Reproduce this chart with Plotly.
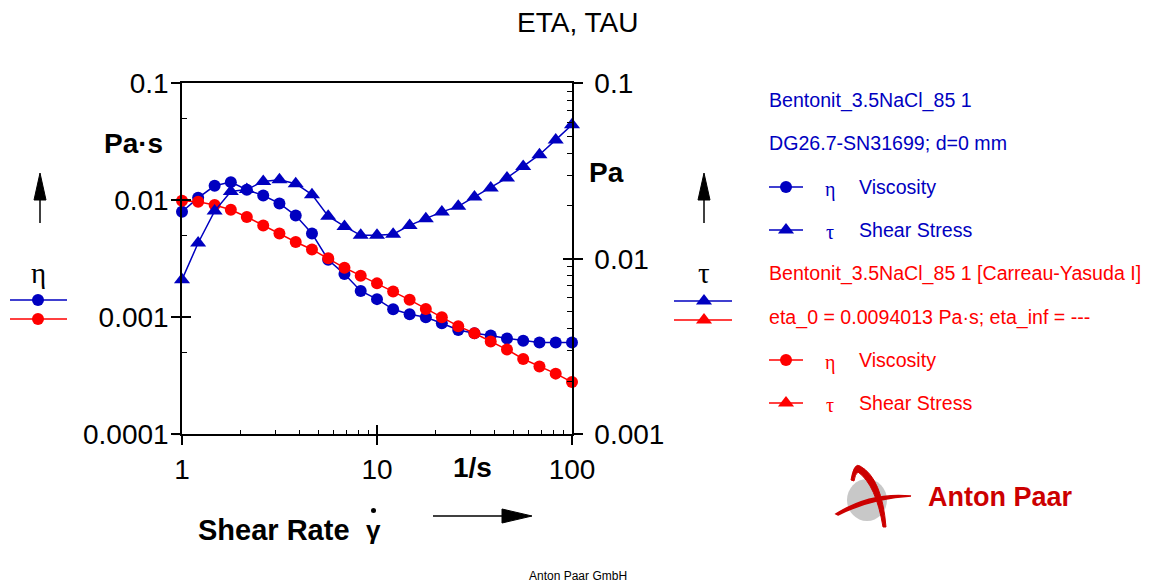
import plotly.graph_objects as go

# ---------------- data ----------------
shear_rate = [1, 1.21, 1.47, 1.78, 2.15, 2.61, 3.16, 3.83, 4.64, 5.62, 6.81, 8.25,
              10, 12.1, 14.7, 17.8, 21.5, 26.1, 31.6, 38.3, 46.4, 56.2, 68.1, 82.5, 100]
eta_measured = [0.0080, 0.0105, 0.0133, 0.0143, 0.0123, 0.0110, 0.0094, 0.0074, 0.0052,
                0.0031, 0.00234, 0.00168, 0.00143, 0.00117, 0.00106, 0.00100, 0.00089,
                0.00078, 0.00073, 0.00070, 0.00066, 0.00063, 0.00061, 0.00061, 0.00061]
tau_measured = [0.0076, 0.0123, 0.0187, 0.0242, 0.0248, 0.0276, 0.0282, 0.0268, 0.0232,
                0.0175, 0.0153, 0.0136, 0.0136, 0.0138, 0.0155, 0.0169, 0.0185, 0.0199,
                0.0225, 0.0253, 0.0289, 0.0336, 0.0392, 0.0476, 0.058]
eta_fit = [0.0099, 0.0097, 0.0091, 0.0083, 0.0072, 0.0061, 0.0052, 0.0044, 0.0038, 0.0032,
           0.00265, 0.00227, 0.00195, 0.00166, 0.00141, 0.00118, 0.00100, 0.00084,
           0.00073, 0.00062, 0.00053, 0.00044, 0.00038, 0.00033, 0.00028]

x_tickvals = [1, 10, 100]
x_ticktext = ["1", "10", "100"]
x_minor = [2, 3, 4, 5, 6, 7, 8, 9, 20, 30, 40, 50, 60, 70, 80, 90]
eta_tickvals = [1e-4, 1e-3, 1e-2, 1e-1]
eta_ticktext = ["0.0001", "0.001", "0.01", "0.1"]
eta_minor = [5e-4, 5e-3, 5e-2]
tau_tickvals = [1e-3, 1e-2, 1e-1]
tau_ticktext = ["0.001", "0.01", "0.1"]
tau_minor = [m * d for d in (1e-3, 1e-2) for m in range(2, 10)]

BLUE = "#0000C0"
RED = "#FF0000"
LOGO_RED = "#CC0000"
FONT = "Liberation Sans"
SERIF = "Liberation Serif"

# page has an 8px body margin: figure is placed at (8, 8)
OFF = 8
PAGE_W, PAGE_H = 1156, 585
W, H = PAGE_W - OFF, PAGE_H - OFF
PL, PR, PT, PB = 182, 572, 83.3, 434.3          # plot frame in page pixels
xdom = [(PL - OFF) / W, (PR - OFF) / W]
ydom = [1 - (PB - OFF) / H, 1 - (PT - OFF) / H]

fig = go.Figure()

# data traces
fig.add_trace(go.Scatter(x=shear_rate, y=eta_measured, xaxis="x", yaxis="y",
                         mode="lines+markers", line=dict(color=BLUE, width=1.5),
                         marker=dict(symbol="circle", size=12, color=BLUE),
                         cliponaxis=False, showlegend=False, name="η Viscosity"))
fig.add_trace(go.Scatter(x=shear_rate, y=eta_fit, xaxis="x", yaxis="y",
                         mode="lines+markers", line=dict(color=RED, width=1.5),
                         marker=dict(symbol="circle", size=12, color=RED),
                         cliponaxis=False, showlegend=False, name="η Viscosity fit"))
fig.add_trace(go.Scatter(x=shear_rate, y=tau_measured, xaxis="x", yaxis="y2",
                         mode="lines+markers", line=dict(color=BLUE, width=1.5),
                         marker=dict(symbol="triangle-up", size=14, color=BLUE),
                         cliponaxis=False, showlegend=False, name="τ Shear Stress"))

# dummy traces for the overlay tick axes
for xa, ya in (("x2", "y"), ("x", "y3"), ("x", "y4")):
    fig.add_trace(go.Scatter(x=[10], y=[0.01], xaxis=xa, yaxis=ya, mode="markers",
                             marker=dict(opacity=0), hoverinfo="skip", showlegend=False))

# decorative legend markers (page-pixel overlay axis)
def deco_marker(x, y, color, symbol, size):
    fig.add_trace(go.Scatter(x=[x], y=[y], xaxis="x5", yaxis="y5", mode="markers",
                             marker=dict(symbol=symbol, size=size, color=color),
                             hoverinfo="skip", showlegend=False, cliponaxis=False))

shapes = []
def hline(x0, x1, y, color, width=1.5):
    shapes.append(dict(type="line", xref="x5", yref="y5", x0=x0, x1=x1, y0=y, y1=y,
                       line=dict(color=color, width=width)))

# left legend (eta)
hline(10, 67, 300, BLUE); deco_marker(38, 300, BLUE, "circle", 12)
hline(10, 67, 319, RED); deco_marker(38, 319, RED, "circle", 12)
# right legend (tau)
hline(674, 732, 301, BLUE); deco_marker(704, 301, BLUE, "triangle-up", 14)
hline(674, 732, 320, RED); deco_marker(704, 320, RED, "triangle-up", 14)
# right-side legend
leg_rows = [187, 230, 360, 403]
leg_cols = [BLUE, BLUE, RED, RED]
leg_sym = ["circle", "triangle-up", "circle", "triangle-up"]
for yy, cc, ss in zip(leg_rows, leg_cols, leg_sym):
    hline(769, 803, yy, cc)
    deco_marker(786, yy, cc, ss, 12 if ss == "circle" else 14)

# bottom axis line extends a little left of the frame
hline(173, 182, 434.3, "black")

# arrows
def up_arrow(x, ytop, ybot):
    shapes.append(dict(type="line", xref="x5", yref="y5", x0=x, x1=x, y0=ybot, y1=ytop + 20,
                       line=dict(color="black", width=1.5)))
    shapes.append(dict(type="path", xref="x5", yref="y5",
                       path=f"M {x-6} {ytop+27} L {x} {ytop} L {x+6} {ytop+27} Z",
                       fillcolor="black", line=dict(color="black", width=1)))
up_arrow(40, 173, 223)
up_arrow(704, 173, 223)
# right arrow under x axis
shapes.append(dict(type="line", xref="x5", yref="y5", x0=433, x1=505, y0=516, y1=516,
                   line=dict(color="black", width=1.5)))
shapes.append(dict(type="path", xref="x5", yref="y5",
                   path="M 502 509 L 532 516 L 502 523 Z", fillcolor="black",
                   line=dict(color="black", width=1)))
# dot above gamma
shapes.append(dict(type="circle", xref="x5", yref="y5", x0=371, x1=376, y0=508, y1=513,
                   fillcolor="black", line=dict(width=0)))

# logo
shapes.append(dict(type="circle", xref="x5", yref="y5", x0=847, x1=887, y0=479, y1=521,
                   fillcolor="#C8C8C8", line=dict(width=0), layer="above"))
shapes.append(dict(type="path", xref="x5", yref="y5",
                   path="M 851 480 Q 854 462 860 466 Q 882 478 886 527 L 883 527 Q 876 485 858 472 Q 855 474 854 481 Z",
                   fillcolor=LOGO_RED, line=dict(color=LOGO_RED, width=1)))
shapes.append(dict(type="path", xref="x5", yref="y5",
                   path="M 836 514 Q 870 492 911 496 Q 872 498 838 515 Z",
                   fillcolor=LOGO_RED, line=dict(color=LOGO_RED, width=1.5)))

annotations = []
def txt(x, y, text, size=17, color="black", bold=False, family=FONT, xanchor="center"):
    if bold:
        text = f"<b>{text}</b>"
    annotations.append(dict(x=x, y=y, xref="x5", yref="y5", text=text, showarrow=False,
                            xanchor=xanchor, yanchor="middle",
                            font=dict(family=family, size=size, color=color)))

txt(577, 22, "ETA, TAU", size=28)
txt(133, 143, "Pa·s", size=28, bold=True)
txt(38, 273, "η", size=29, family=SERIF)
txt(606, 172, "Pa", size=28, bold=True)
txt(704, 273, "τ", size=29, family=SERIF)
txt(472, 467, "1/s", size=28, bold=True)
txt(196, 530, "Shear Rate", size=29, bold=True, xanchor="left")
txt(373, 530, "γ", size=26, bold=True)
txt(578, 576, "Anton Paar GmbH", size=12)
txt(1000, 497, "Anton Paar", size=27, bold=True, color=LOGO_RED)

leg_texts = [
    (100, "Bentonit_3.5NaCl_85 1", BLUE),
    (143, "DG26.7-SN31699; d=0 mm", BLUE),
    (273, "Bentonit_3.5NaCl_85 1 [Carreau-Yasuda I]", RED),
    (317, "eta_0 = 0.0094013 Pa·s; eta_inf = ---", RED),
]
for yy, t, c in leg_texts:
    txt(767, yy, t, size=19.6, color=c, xanchor="left")
for yy, sym, name, c in [(187, "η", "Viscosity", BLUE), (230, "τ", "Shear Stress", BLUE),
                         (360, "η", "Viscosity", RED), (403, "τ", "Shear Stress", RED)]:
    txt(830, yy + 2, sym, size=20, color=c, family=SERIF)
    txt(857, yy, name, size=19.6, color=c, xanchor="left")

tickfont = dict(family=FONT, size=28, color="black")
axis_common = dict(showgrid=False, zeroline=False, linecolor="black", linewidth=1.5,
                   tickcolor="black", tickwidth=1.5, automargin=False)
overlay_common = dict(showline=False, showticklabels=False, showgrid=False, zeroline=False,
                      tickcolor="black", tickwidth=1.5, automargin=False, ticks="inside",
                      ticklen=9, tickmode="array")

fig.update_layout(
    width=W, height=H,
    margin=dict(l=0, r=0, t=0, b=0, pad=0, autoexpand=False),
    paper_bgcolor="white", plot_bgcolor="rgba(0,0,0,0)",
    showlegend=False,
    xaxis=dict(type="log", range=[0, 2], domain=xdom, anchor="y", showline=True, mirror=True,
               tickmode="array", tickvals=x_tickvals, ticktext=x_ticktext, ticks="outside",
               ticklen=9, tickfont=tickfont, ticklabelstandoff=0,
               minor=dict(tickmode="array", tickvals=x_minor, ticks="inside", ticklen=5,
                          tickcolor="black", tickwidth=1.2),
               **axis_common),
    xaxis2=dict(type="log", range=[0, 2], domain=xdom, anchor="y", overlaying="x", side="bottom",
                tickvals=x_tickvals, **overlay_common),
    yaxis=dict(type="log", range=[-4, -1], domain=ydom, anchor="x", showline=True,
               tickmode="array", tickvals=eta_tickvals, ticktext=eta_ticktext, ticks="outside",
               ticklen=9, tickfont=tickfont, ticklabelstandoff=-3,
               minor=dict(tickmode="array", tickvals=eta_minor, ticks="inside", ticklen=5,
                          tickcolor="black", tickwidth=1.2),
               **axis_common),
    yaxis2=dict(type="log", range=[-3, -1], domain=ydom, anchor="x", overlaying="y", side="right",
                showline=True, tickmode="array", tickvals=tau_tickvals, ticktext=tau_ticktext,
                ticks="outside", ticklen=9, tickfont=tickfont, ticklabelstandoff=6,
                minor=dict(tickmode="array", tickvals=tau_minor, ticks="inside", ticklen=5,
                           tickcolor="black", tickwidth=1.2),
                **axis_common),
    yaxis3=dict(type="log", range=[-4, -1], domain=ydom, anchor="x", overlaying="y", side="left",
                tickvals=eta_tickvals, **overlay_common),
    yaxis4=dict(type="log", range=[-3, -1], domain=ydom, anchor="x", overlaying="y", side="right",
                tickvals=tau_tickvals, **overlay_common),
    xaxis5=dict(range=[OFF, PAGE_W], domain=[0, 1], anchor="y5", visible=False, fixedrange=True,
                automargin=False),
    yaxis5=dict(range=[PAGE_H, OFF], domain=[0, 1], anchor="x5", visible=False, fixedrange=True,
                automargin=False),
    shapes=shapes,
    annotations=annotations,
)

fig.write_html("out.html")
